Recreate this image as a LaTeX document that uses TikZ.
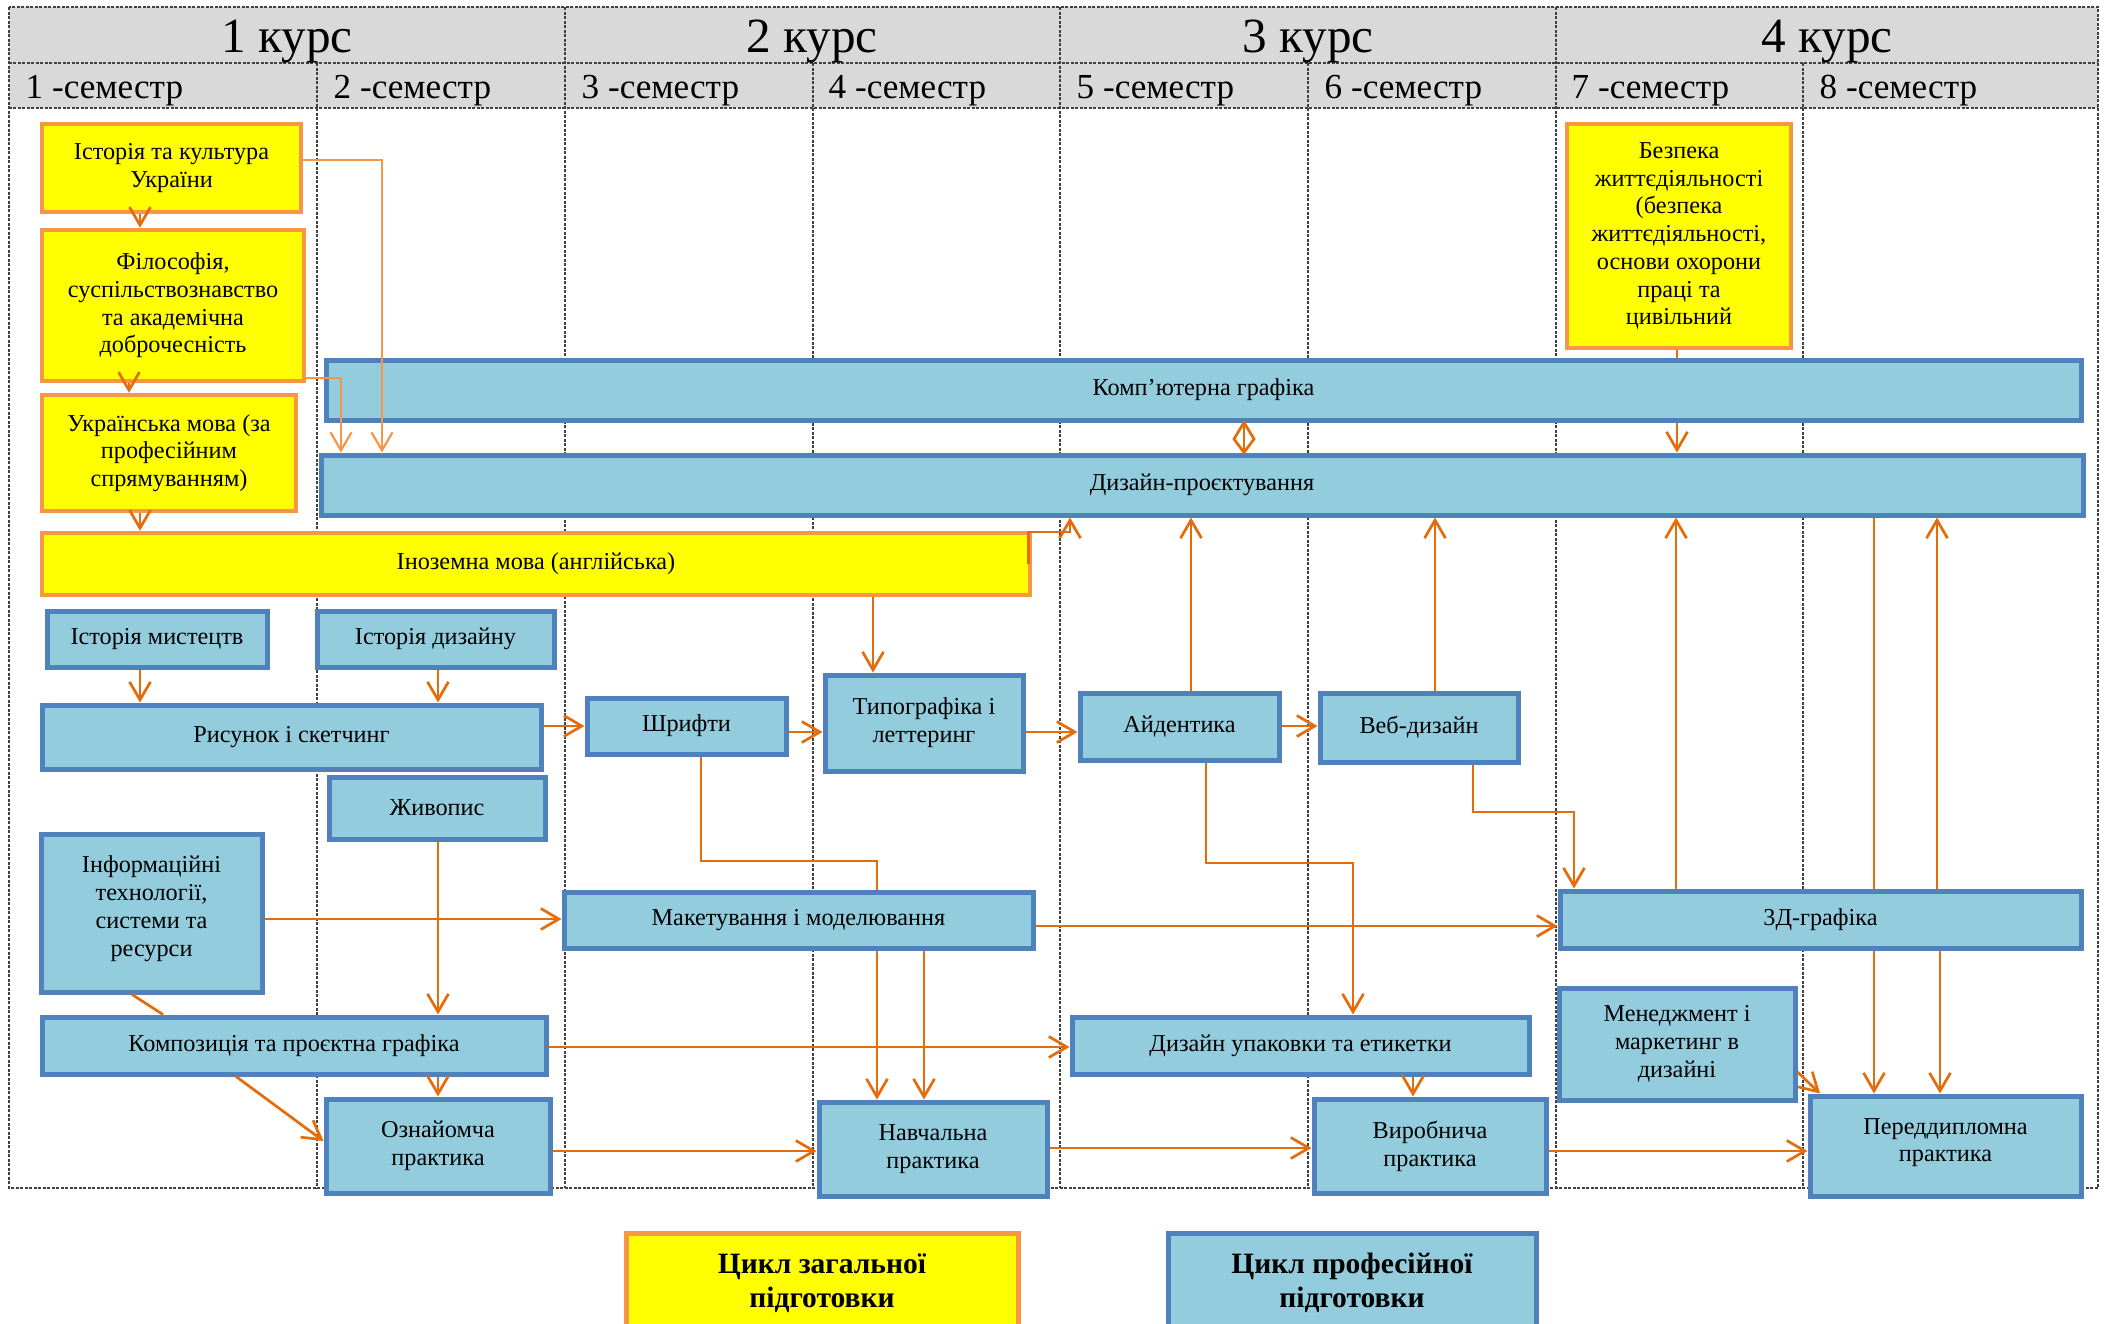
\documentclass[tikz,border=0pt]{standalone}
\usepackage{fontspec}
\setmainfont{Liberation Serif}
\usetikzlibrary{arrows.meta}
\definecolor{yF}{HTML}{FFFF00}
\definecolor{oB}{HTML}{F79646}
\definecolor{bF}{HTML}{93CDDD}
\definecolor{bB}{HTML}{4F81BD}
\definecolor{arC}{HTML}{E46C0A}
\definecolor{hdr}{HTML}{D9D9D9}
\definecolor{grd}{HTML}{404040}
\pgfdeclarelayer{bg}
\pgfsetlayers{bg,main}
\newcommand\bxf{\fontsize{6.9}{7.9}\selectfont}
\newcommand\crsboxnode[7]{\node[#6, minimum width={(#4-#2)*0.1mm}, minimum height={(#5-#3)*0.1mm}] (#1) at ({(#2+#4)/2},{(#3+#5)/2}) {#7};}
\tikzset{
  gbox/.style={draw=oB, fill=yF, line width=0.45mm, align=center, inner sep=0pt, font=\bxf},
  pbox/.style={draw=bB, fill=bF, line width=0.5mm, align=center, inner sep=0pt, font=\bxf},
  lgbox/.style={line width=0.5mm, align=center, inner sep=0pt, font=\fontsize{8.4}{9.6}\selectfont\bfseries},
  grid line/.style={draw=grd, line width=0.12mm, dash pattern=on 0.3mm off 0.15mm},
  crs/.style={anchor=base, inner sep=0pt, font=\fontsize{14}{16}\selectfont},
  sem/.style={anchor=base west, inner sep=0pt, font=\fontsize{10}{12}\selectfont},
  arr/.style={draw=arC, line width=0.27mm, -{Straight Barb[length=1.8mm,width=2.1mm]}},
  larr/.style={draw=oB, line width=0.22mm, -{Straight Barb[length=1.8mm,width=2.1mm]}},
  ln/.style={draw=arC, line width=0.27mm},
  kite/.style={draw=arC, line width=0.27mm, line join=miter}
}
\begin{document}
\begin{tikzpicture}[x=0.1mm,y=-0.1mm]
\useasboundingbox (0,0) rectangle (2105,1323);
\clip (0,0) rectangle (2105,1323);
\begin{pgfonlayer}{bg}
\fill[white] (0,0) rectangle (2105,1323);
\fill[hdr] (9,7) rectangle (2098,108);
\draw[grid line] (9,7) rectangle (2098,1188);
\draw[grid line] (9,63) -- (2098,63) (9,108) -- (2098,108);
\foreach \x in {565,1060,1556} \draw[grid line] (\x,7) -- (\x,1188);
\foreach \x in {317,813,1308,1803} \draw[grid line] (\x,63) -- (\x,1188);
\end{pgfonlayer}
% headers
\node[crs] (k1) at (287,52) {1 курс};
\node[crs] (k2) at (812,52) {2 курс};
\node[crs] (k3) at (1308,52) {3 курс};
\node[crs] (k4) at (1827,52) {4 курс};
\node[sem] (s1) at (25,98) {1 -семестр};
\node[sem] (s2) at (333,98) {2 -семестр};
\node[sem] (s3) at (581,98) {3 -семестр};
\node[sem] (s4) at (828,98) {4 -семестр};
\node[sem] (s5) at (1076,98) {5 -семестр};
\node[sem] (s6) at (1324,98) {6 -семестр};
\node[sem] (s7) at (1571,98) {7 -семестр};
\node[sem] (s8) at (1819,98) {8 -семестр};
% general cycle
\crsboxnode{ist}{42}{124}{301}{212}{gbox}{Історія та культура\\України}
\crsboxnode{fil}{42}{230}{304}{381}{gbox}{Філософія,\\суспільствознавство\\та  академічна\\доброчесність}
\crsboxnode{ukr}{42}{395}{296}{511}{gbox}{Українська мова (за\\професійним\\спрямуванням)}
\crsboxnode{ino}{42}{533}{1030}{595}{gbox}{Іноземна мова (англійська)}
\crsboxnode{bzp}{1567}{124}{1791}{348}{gbox}{Безпека\\життєдіяльності\\(безпека\\життєдіяльності,\\основи охорони\\праці та\\цивільний}
% professional cycle
\crsboxnode{kg}{326}{360}{2081}{420}{pbox}{Комп’ютерна графіка}
\crsboxnode{dp}{321}{455}{2083}{515}{pbox}{Дизайн-проєктування}
\crsboxnode{im}{47}{611}{267}{667}{pbox}{Історія мистецтв}
\crsboxnode{id}{317}{611}{554}{667}{pbox}{Історія дизайну}
\crsboxnode{ris}{42}{705}{541}{769}{pbox}{Рисунок і скетчинг}
\crsboxnode{ziv}{329}{777}{545}{839}{pbox}{Живопис}
\crsboxnode{shr}{587}{698}{786}{754}{pbox}{Шрифти}
\crsboxnode{typ}{825}{675}{1023}{771}{pbox}{Типографіка і\\леттеринг}
\crsboxnode{aid}{1080}{693}{1279}{760}{pbox}{Айдентика}
\crsboxnode{web}{1320}{693}{1518}{762}{pbox}{Веб-дизайн}
\crsboxnode{inf}{41}{834}{262}{992}{pbox}{Інформаційні\\технології,\\системи та\\ресурси\\[-1.4mm]}
\crsboxnode{mak}{564}{892}{1033}{948}{pbox}{Макетування і моделювання}
\crsboxnode{td}{1560}{891}{2081}{948}{pbox}{3Д-графіка}
\crsboxnode{kom}{42}{1017}{546}{1074}{pbox}{Композиція та проєктна графіка}
\crsboxnode{upk}{1072}{1017}{1529}{1074}{pbox}{Дизайн упаковки та етикетки}
\crsboxnode{men}{1559}{988}{1795}{1100}{pbox}{Менеджмент і\\маркетинг в\\дизайні}
\crsboxnode{ozn}{326}{1099}{550}{1193}{pbox}{Ознайомча\\практика}
\crsboxnode{nav}{819}{1102}{1047}{1196}{pbox}{Навчальна\\практика}
\crsboxnode{vyr}{1314}{1099}{1546}{1193}{pbox}{Виробнича\\практика}
\crsboxnode{pd}{1810}{1096}{2081}{1196}{pbox}{Переддипломна\\практика\\[-1.6mm]}
% legend
\crsboxnode{lg1}{626}{1233}{1018}{1333}{lgbox,draw=oB,fill=yF}{Цикл загальної\\підготовки}
\crsboxnode{lg2}{1168}{1233}{1536}{1333}{lgbox,draw=bB,fill=bF}{Цикл професійної\\підготовки}
% hidden connectors (behind boxes)
\begin{pgfonlayer}{bg}
\draw[arr] (1677,0 |- bzp.south) -- (1677,0 |- dp.north);
\draw[arr] (1874,0 |- dp.south) -- (1874,0 |- pd.north);
\end{pgfonlayer}
% connectors
\draw[arr] (140,0 |- ist.south) -- (140,0 |- fil.north);
\draw[arr] (129,0 |- fil.south) -- (129,0 |- ukr.north);
\draw[arr] (140,0 |- ukr.south) -- (140,0 |- ino.north);
\draw[larr] (ist.east |- 0,160) -| (382,0 |- dp.north);
\draw[larr] (fil.east |- 0,378) -| (341,0 |- dp.north);
\draw[ln] (1244,0 |- kg.south) -- (1244,0 |- dp.north);
\draw[kite] (1244,0 |- kg.south) -- (1254,439) -- (1244,0 |- dp.north) -- (1234,439) -- cycle;
\draw[arr] ([xshift=-0.4mm]ino.east) |- (1070,532) -- (1070,0 |- dp.south);
\draw[arr] (873,0 |- ino.south) -- (873,0 |- typ.north);
\draw[arr] (140,0 |- im.south) -- (140,0 |- ris.north);
\draw[arr] (438,0 |- id.south) -- (438,0 |- ris.north);
\draw[arr] (ris.east |- 0,726) -- (shr.west |- 0,726);
\draw[arr] (shr.east |- 0,732) -- (typ.west |- 0,732);
\draw[arr] (typ.east |- 0,732) -- (aid.west |- 0,732);
\draw[arr] (aid.east |- 0,726) -- (web.west |- 0,726);
\draw[arr] (1191,0 |- aid.north) -- (1191,0 |- dp.south);
\draw[arr] (1435,0 |- web.north) -- (1435,0 |- dp.south);
\draw[ln] (701,0 |- shr.south) |- (877,861) -- (877,0 |- mak.north);
\draw[arr] (1206,0 |- aid.south) |- (1353,863) -- (1353,0 |- upk.north);
\draw[arr] (1473,0 |- web.south) |- (1574,812) -- (1574,0 |- td.north);
\draw[arr] (1676,0 |- td.north) -- (1676,0 |- dp.south);
\draw[arr] (1937,0 |- td.north) -- (1937,0 |- dp.south);
\draw[arr] (1940,0 |- td.south) -- (1940,0 |- pd.north);
\draw[arr] (inf.east |- 0,919) -- (mak.west |- 0,919);
\draw[arr] (438,0 |- ziv.south) -- (438,0 |- kom.north);
\draw[ln] (132,0 |- inf.south) -- (163,0 |- kom.north);
\draw[arr] (438,0 |- kom.south) -- (438,0 |- ozn.north);
\draw[arr] (236,0 |- kom.south) -- (ozn.west |- 0,1141);
\draw[arr] (kom.east |- 0,1047) -- (upk.west |- 0,1047);
\draw[arr] (877,0 |- mak.south) -- (877,0 |- nav.north);
\draw[arr] (924,0 |- mak.south) -- (924,0 |- nav.north);
\draw[arr] (mak.east |- 0,926) -- (td.west |- 0,926);
\draw[arr] (ozn.east |- 0,1151) -- (nav.west |- 0,1151);
\draw[arr] (nav.east |- 0,1148) -- (vyr.west |- 0,1148);
\draw[arr] (1413,0 |- upk.south) -- (1413,0 |- vyr.north);
\draw[arr] (vyr.east |- 0,1151) -- (pd.west |- 0,1151);
\draw[arr] (men.east |- 0,1072) -- (1820,0 |- pd.north);
\end{tikzpicture}
\end{document}
